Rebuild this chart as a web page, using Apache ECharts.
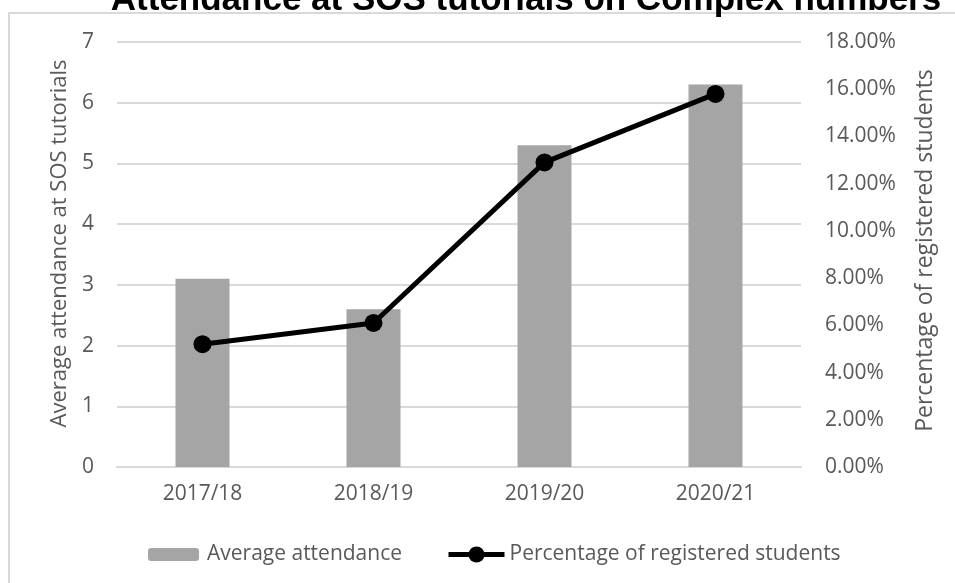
<!DOCTYPE html>
<html>
<head>
<meta charset="utf-8">
<script src="https://cdn.jsdelivr.net/npm/echarts@6/dist/echarts.min.js"></script>
<style>
  html, body { margin: 0; padding: 0; background: #ffffff; }
  #chart { width: 955px; height: 583px; }
</style>
</head>
<body>
<div id="chart"></div>
<script>
// Academic years shown on the category axis
const years = ['2017/18', '2018/19', '2019/20', '2020/21'];
// Average number of students attending each SOS tutorial
const averageAttendance = [3.1, 2.6, 5.3, 6.3];
// Share of registered students who attended (fraction)
const registeredShare = [0.052, 0.061, 0.129, 0.158];

const titleText = 'Attendance at SOS tutorials on Complex numbers';
const leftAxisName = 'Average attendance at SOS tutorials';
const rightAxisName = 'Percentage of registered students';
const barSeriesName = 'Average attendance';
const lineSeriesName = 'Percentage of registered students';

const textGrey = '#595959';
const gridGrey = '#d9d9d9';
const uiFont = '"Open Sans", "Noto Sans", sans-serif';
const legendText = { color: textGrey, fontFamily: uiFont, fontSize: 21 };

const chart = echarts.init(document.getElementById('chart'), null, { renderer: 'canvas' });

chart.setOption({
  backgroundColor: '#ffffff',
  animation: false,
  graphic: [
    {
      type: 'rect',
      shape: { x: 9, y: 13, width: 1200, height: 800 },
      style: { fill: 'none', stroke: gridGrey, lineWidth: 2 },
      silent: true
    },
    {
      type: 'text',
      x: 526,
      y: 18,
      style: {
        text: titleText,
        font: 'bold 35px "Liberation Sans", Arial, sans-serif',
        fill: '#000000',
        align: 'center',
        verticalAlign: 'bottom'
      },
      silent: true
    }
  ],
  grid: { left: 117, right: 154, top: 42, bottom: 116, containLabel: false },
  // Two legend blocks so each key can have its own icon size
  legend: [
    {
      left: 143,
      top: 539,
      itemWidth: 51,
      itemHeight: 13,
      textStyle: Object.assign({ padding: [0, 0, 0, 3] }, legendText),
      data: [barSeriesName]
    },
    {
      left: 441,
      top: 539,
      itemWidth: 56,
      itemHeight: 20,
      textStyle: legendText,
      data: [{ name: lineSeriesName, lineStyle: { width: 5, color: '#000000' } }]
    }
  ],
  xAxis: {
    type: 'category',
    data: years,
    axisLine: { show: true, lineStyle: { color: gridGrey, width: 2 } },
    axisTick: { show: false },
    axisLabel: { color: textGrey, fontFamily: uiFont, fontSize: 21, margin: 17 }
  },
  yAxis: [
    {
      type: 'value',
      min: 0,
      max: 7,
      interval: 1,
      name: leftAxisName,
      nameLocation: 'middle',
      nameGap: 45,
      nameRotate: 90,
      nameTextStyle: { color: textGrey, fontFamily: uiFont, fontSize: 22, padding: [0, 0, 0, 22] },
      axisLine: { show: false },
      axisTick: { show: false },
      axisLabel: { color: textGrey, fontFamily: uiFont, fontSize: 21, margin: 23 },
      splitLine: { lineStyle: { color: gridGrey, width: 2 } }
    },
    {
      type: 'value',
      min: 0,
      max: 0.18,
      interval: 0.02,
      name: rightAxisName,
      nameLocation: 'middle',
      nameGap: 113,
      nameRotate: 90,
      nameTextStyle: { color: textGrey, fontFamily: uiFont, fontSize: 23, padding: [0, 0, 0, 8] },
      axisLine: { show: false },
      axisTick: { show: false },
      splitLine: { show: false },
      axisLabel: {
        color: textGrey,
        fontFamily: uiFont,
        fontSize: 21,
        margin: 24,
        formatter: v => (v * 100).toFixed(2) + '%'
      }
    }
  ],
  series: [
    {
      name: barSeriesName,
      type: 'bar',
      yAxisIndex: 0,
      data: averageAttendance,
      barWidth: 54,
      itemStyle: { color: '#a5a5a5' }
    },
    {
      name: lineSeriesName,
      type: 'line',
      yAxisIndex: 1,
      data: registeredShare,
      symbol: 'circle',
      symbolSize: 18,
      lineStyle: { color: '#000000', width: 5 },
      itemStyle: { color: '#000000' }
    }
  ]
});
</script>
</body>
</html>
